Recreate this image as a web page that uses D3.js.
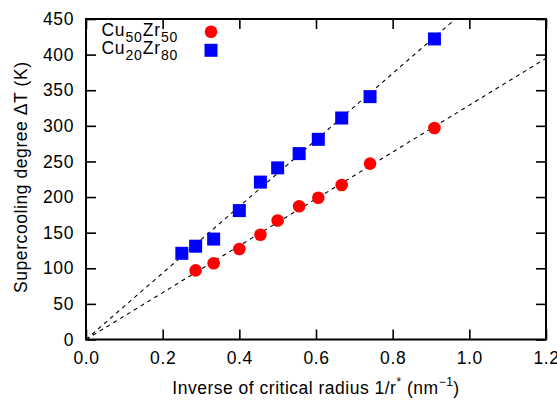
<!DOCTYPE html>
<html>
<head>
<meta charset="utf-8">
<script src="https://cdn.jsdelivr.net/npm/d3@7"></script>
<style>
  html, body { margin: 0; padding: 0; background: #fff; }
  svg { display: block; font-family: "Liberation Sans", Arial, Helvetica, sans-serif; }
</style>
</head>
<body>
<svg id="chart" width="557" height="400"></svg>
<script>
// Inverse critical radius 1/r* (nm^-1) and supercooling degree ΔT (K)
const invRadiusCu50 = [0.286, 0.333, 0.400, 0.455, 0.500, 0.556, 0.606, 0.667, 0.741, 0.909];
const deltaTCu50    = [97, 107, 127, 147, 167, 187, 199, 217, 247, 297];

const invRadiusCu20 = [0.250, 0.286, 0.333, 0.400, 0.455, 0.500, 0.556, 0.606, 0.667, 0.741, 0.909];
const deltaTCu20    = [121, 131, 141, 181, 221, 241, 261, 281, 311, 341, 422];

// Linear fits through the origin (slope in K·nm)
const fitSlopes = [329, 467];

const xTicks = [0.0, 0.2, 0.4, 0.6, 0.8, 1.0, 1.2];
const yTicks = [0, 50, 100, 150, 200, 250, 300, 350, 400, 450];

const svg = d3.select("#chart");
const W = 557, H = 400;
const m = { left: 86, top: 19, right: 11, bottom: 60.5 };
const iw = W - m.left - m.right, ih = H - m.top - m.bottom;

const x = d3.scaleLinear().domain([0, 1.2]).range([0, iw]);
const y = d3.scaleLinear().domain([0, 450]).range([ih, 0]);

const g = svg.append("g").attr("transform", `translate(${m.left},${m.top})`);

g.append("clipPath").attr("id", "plotclip")
  .append("rect").attr("width", iw).attr("height", ih);

// Fit lines
const fitLine = d3.line().x(d => x(d[0])).y(d => y(d[1]));
g.append("g").attr("clip-path", "url(#plotclip)")
  .selectAll("path").data(fitSlopes).join("path")
  .attr("d", s => fitLine([[0, 0], [1.2, s * 1.2]]))
  .attr("fill", "none").attr("stroke", "#000")
  .attr("stroke-width", 1.1).attr("stroke-dasharray", "4,4");

// Data markers
const cu50 = invRadiusCu50.map((v, i) => [v, deltaTCu50[i]]);
const cu20 = invRadiusCu20.map((v, i) => [v, deltaTCu20[i]]);

g.append("g").selectAll("circle").data(cu50).join("circle")
  .attr("cx", d => x(d[0])).attr("cy", d => y(d[1])).attr("r", 6.3)
  .attr("fill", "#ff0000");

const sq = 13;
g.append("g").selectAll("rect").data(cu20).join("rect")
  .attr("x", d => x(d[0]) - sq / 2).attr("y", d => y(d[1]) - sq / 2)
  .attr("width", sq).attr("height", sq)
  .attr("fill", "#0000ff");

// Axes with inward ticks, mirrored on top and right
const tickLen = 10;
const fs = 17.5;
const ls = 0.6;
const axB = d3.axisBottom(x).tickValues(xTicks).tickFormat(d3.format(".1f")).tickSizeInner(-tickLen).tickSizeOuter(0).tickPadding(12);
const axL = d3.axisLeft(y).tickValues(yTicks).tickFormat(d3.format("d")).tickSizeInner(-tickLen).tickSizeOuter(0).tickPadding(12);
const axT = d3.axisTop(x).tickValues(xTicks).tickFormat("").tickSizeInner(-tickLen).tickSizeOuter(0);
const axR = d3.axisRight(y).tickValues(yTicks).tickFormat("").tickSizeInner(-tickLen).tickSizeOuter(0);

function styleAxis(sel) {
  sel.select(".domain").remove();
  sel.selectAll(".tick line").attr("stroke", "#000").attr("stroke-width", 1.6);
  sel.selectAll(".tick text").attr("fill", "#000").attr("font-size", fs)
    .attr("font-family", "Liberation Sans, Arial, sans-serif").attr("letter-spacing", ls);
}
g.append("g").attr("transform", `translate(0,${ih})`).call(axB).call(styleAxis);
g.append("g").call(axL).call(styleAxis);
g.append("g").call(axT).call(styleAxis);
g.append("g").attr("transform", `translate(${iw},0)`).call(axR).call(styleAxis);

// Frame
g.append("rect").attr("width", iw).attr("height", ih)
  .attr("fill", "none").attr("stroke", "#000").attr("stroke-width", 2);

// Legend
const legend = [
  { a: "Cu", as: "50", b: "Zr", bs: "50", shape: "circle" },
  { a: "Cu", as: "20", b: "Zr", bs: "80", shape: "square" }
];
const legY = [35.7, 54.3];
legend.forEach((L, i) => {
  const t = svg.append("text").attr("x", 101.5).attr("y", legY[i])
    .attr("font-size", fs).attr("fill", "#000").attr("letter-spacing", ls);
  t.append("tspan").text(L.a);
  t.append("tspan").attr("font-size", 14).attr("dy", 6).attr("dx", 0.5).text(L.as);
  t.append("tspan").attr("dy", -6).attr("dx", 0.5).text(L.b);
  t.append("tspan").attr("font-size", 14).attr("dy", 6).attr("dx", 0.5).text(L.bs);
  if (L.shape === "circle") {
    svg.append("circle").attr("cx", 211).attr("cy", legY[i] - 4).attr("r", 6.3).attr("fill", "#ff0000");
  } else {
    svg.append("rect").attr("x", 211 - sq / 2).attr("y", legY[i] - 4 - sq / 2)
      .attr("width", sq).attr("height", sq).attr("fill", "#0000ff");
  }
});

// Axis titles
const xt = svg.append("text").attr("x", m.left + iw / 2).attr("y", 394)
  .attr("text-anchor", "middle").attr("font-size", fs).attr("fill", "#000")
  .attr("letter-spacing", 0.5);
xt.append("tspan").text("Inverse of critical radius 1/r");
xt.append("tspan").attr("font-size", 12).attr("dy", -8).text("*");
xt.append("tspan").attr("dy", 8).text(" (nm");
xt.append("tspan").attr("font-size", 12).attr("dy", -8).text("−1");
xt.append("tspan").attr("dy", 8).text(")");

svg.append("text")
  .attr("transform", `translate(27,177.5) rotate(-90)`)
  .attr("text-anchor", "middle").attr("font-size", fs).attr("fill", "#000")
  .attr("textLength", 231).attr("lengthAdjust", "spacing")
  .text("Supercooling degree ΔT (K)");
</script>
</body>
</html>
